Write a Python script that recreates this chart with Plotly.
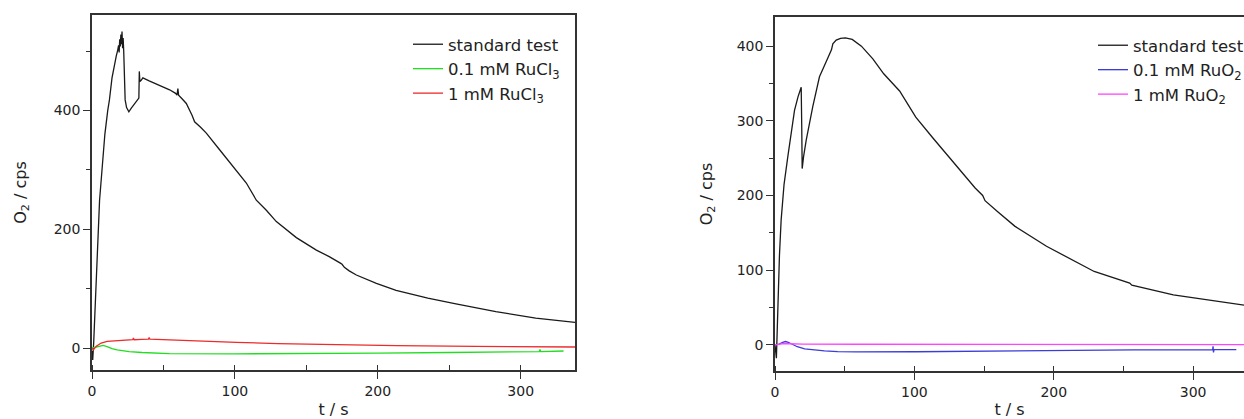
import plotly.graph_objects as go

W, H = 1244, 419
FONT = "DejaVu Sans"

# ---------------- data ----------------
legend_left = ["standard test", "0.1 mM RuCl<sub>3</sub>", "1 mM RuCl<sub>3</sub>"]
legend_right = ["standard test", "0.1 mM RuO<sub>2</sub>", "1 mM RuO<sub>2</sub>"]

left_std_t = [0, 0.5, 1.2, 2.0, 3.0, 4.0, 5.3, 7.0, 9.0, 11.0, 12.2, 14.0, 15.8, 17.0, 18.0,
              18.6, 19.0, 19.4, 19.8, 20.2, 20.6, 21.0, 21.4, 21.8, 22.2, 22.6, 23.2, 24.2,
              25.8, 27.5, 29.5, 31.5, 32.8, 33.1, 33.5, 34.4, 35.6, 40, 47.3, 54.3, 58.5,
              59.5, 60.1, 60.6, 63, 66, 70, 71.8, 76, 80, 89.3, 98.6, 108, 115, 122, 129,
              143, 157, 166, 173.8, 175, 176.6, 180, 185, 199, 212.8, 235, 254.7, 282.6,
              310.5, 339]
left_std_y = [-5, -20, 10, 55, 105, 160, 249, 300, 360, 400, 418, 455, 482, 492, 502,
              510, 498, 520, 508, 528, 512, 533, 505, 522, 500, 440, 418, 405,
              398, 404, 411, 417, 421, 466, 449, 451, 455, 450, 443, 435, 429,
              426, 437, 426, 420, 412, 392, 381, 372, 362, 334, 306, 278, 249, 232, 213,
              186, 165, 154, 143, 141, 136, 130, 123, 109, 97, 84, 74.4, 61.5,
              50.3, 43]

left_01_t = [0, 2, 4, 7.8, 11, 14, 17.6, 22, 26, 35, 45.5, 54, 100, 150, 200, 250, 300,
             313, 313.5, 314, 330]
left_01_y = [0, 1, 3, 4.5, 2, -1, -3, -5, -6, -7.5, -8.5, -9.5, -9.8, -9.5, -8.5, -7.5,
             -6.3, -6, -2.5, -6, -5]

left_1_t = [0, 1, 3, 6.4, 10.6, 15, 20, 25, 28.5, 29, 29.5, 35, 39.5, 40, 40.5, 45, 59.4,
            80, 101, 130, 157, 213, 268.6, 339]
left_1_y = [0, -3, 3, 8.4, 11.2, 12, 12.5, 13.5, 14, 17, 14, 14.5, 15, 17.5, 15, 14.5, 13,
            11, 9.5, 7.5, 6, 4, 2.8, 1.7]

right_std_t = [0, 0.5, 1.0, 1.6, 2.3, 3.2, 4.4, 6.5, 9.2, 11.5, 14, 16.5, 18.8, 19.2, 19.5,
               20.5, 22.4, 27.1, 31.9, 36.7, 40.5, 41.5, 43.9, 47, 50.5, 55.4, 62, 70.2,
               78, 89.4, 101, 113.3, 125.3, 135, 143.6, 149, 150.7, 160, 172, 194.8,
               214.7, 229, 254.5, 256, 285.8, 314, 337]
right_std_y = [0, -10, -18, 20, 70, 120, 167, 215, 252, 285, 314, 332, 345, 290, 236,
               252, 274, 319, 359, 379, 395, 403, 408, 410.5, 411, 409, 400, 383,
               363, 340, 305, 277, 250, 228, 210, 200, 193, 178, 159, 132,
               112, 98.3, 82.7, 80, 67, 59, 53]

right_01_t = [0, 3, 5.5, 7.5, 9.5, 12.8, 16, 21.3, 28, 35.5, 45, 58.3, 101, 172, 257, 314,
              314.3, 314.6, 315, 331]
right_01_y = [0, 1, 3.5, 4.5, 3.5, 0.5, -2.5, -5.4, -7, -8, -9, -9.4, -9.2, -7.8, -6.8,
              -6.5, -2, -10, -6.5, -6.3]

right_1_t = [0, 5, 10, 20, 60, 150, 250, 337]
right_1_y = [0, 1.5, 1.5, 1.0, 0.8, 0.5, 0.3, 0.2]

x_ticks = [0, 100, 200, 300]
x_top_ticks = [50, 150, 250]

# ---------------- figure ----------------
fig = go.Figure()

def add(t, y, name, color, xa, ya, leg, width=1.3):
    fig.add_trace(go.Scatter(x=t, y=y, mode="lines", name=name,
                             line=dict(color=color, width=width),
                             xaxis=xa, yaxis=ya, legend=leg))

add(left_std_t, left_std_y, legend_left[0], "#1a1a1a", "x", "y", "legend")
add(left_01_t, left_01_y, legend_left[1], "#22dd22", "x", "y", "legend")
add(left_1_t, left_1_y, legend_left[2], "#ee2a2a", "x", "y", "legend")

add(right_std_t, right_std_y, legend_right[0], "#1a1a1a", "x2", "y2", "legend2")
add(right_01_t, right_01_y, legend_right[1], "#3c3cd8", "x2", "y2", "legend2")
add(right_1_t, right_1_y, legend_right[2], "#ff44ff", "x2", "y2", "legend2")

tickfont = dict(family=FONT, size=14, color="#222")
titlefont = dict(family=FONT, size=16, color="#222")
base = dict(showline=True, linecolor="#333", linewidth=1.5, showgrid=False, zeroline=False,
            ticks="outside", tickcolor="#333", tickwidth=1.3, ticklen=7,
            tickfont=tickfont, automargin=False, fixedrange=True)

def xax(domain, rng, anchor):
    d = dict(base)
    d.update(domain=domain, range=rng, anchor=anchor, tickvals=x_ticks, mirror=True,
             minor=dict(dtick=50, tick0=0, ticks="inside", ticklen=5, tickcolor="#333", tickwidth=1.2),
             title=dict(text="t / s", font=titlefont, standoff=6))
    return d

def topax(rng, over, anchor):
    return dict(overlaying=over, side="top", range=rng, anchor=anchor, tickvals=x_top_ticks,
                showticklabels=False, ticks="outside", ticklen=6, tickcolor="#333", tickwidth=1.3,
                showline=False, showgrid=False, zeroline=False, fixedrange=True)

def yax(domain, rng, anchor, dtick, mdtick, mirror, standoff):
    d = dict(base)
    d.update(domain=domain, range=rng, anchor=anchor, dtick=dtick, tick0=0, mirror=mirror,
             minor=dict(dtick=mdtick, tick0=0, ticks="outside", ticklen=4, tickcolor="#333", tickwidth=1.2),
             title=dict(text="O<sub>2</sub> / cps", font=titlefont, standoff=standoff))
    return d

L_x = [92 / W, 575 / W]
L_y = [1 - 370 / H, 1 - 15 / H]
R_x = [775 / W, 1.0]
R_y = [1 - 371 / H, 1 - 17 / H]

legfont = dict(family=FONT, size=16.5, color="#222")

fig.update_layout(
    width=W, height=H,
    margin=dict(l=0, r=0, t=0, b=0, autoexpand=False),
    paper_bgcolor="white", plot_bgcolor="white",
    font=dict(family=FONT, color="#222"),
    xaxis=xax(L_x, [0, 338], "y"),
    yaxis=yax(L_y, [-37, 561], "x", 200, 100, True, 23),
    xaxis3=topax([0, 338], "x", "y"),
    xaxis2=xax(R_x, [0, 336.5], "y2"),
    yaxis2=yax(R_y, [-35, 439], "x2", 100, 50, False, 20),
    xaxis4=topax([0, 336.5], "x2", "y2"),
    legend=dict(x=408 / W, y=1 - 27 / H, xanchor="left", yanchor="top",
                font=legfont, bgcolor="rgba(0,0,0,0)", borderwidth=0),
    legend2=dict(x=1093 / W, y=1 - 28 / H, xanchor="left", yanchor="top",
                 xref="container", yref="container",
                 font=legfont, bgcolor="rgba(0,0,0,0)", borderwidth=0),
    showlegend=True,
)

fig.write_html("out.html")
